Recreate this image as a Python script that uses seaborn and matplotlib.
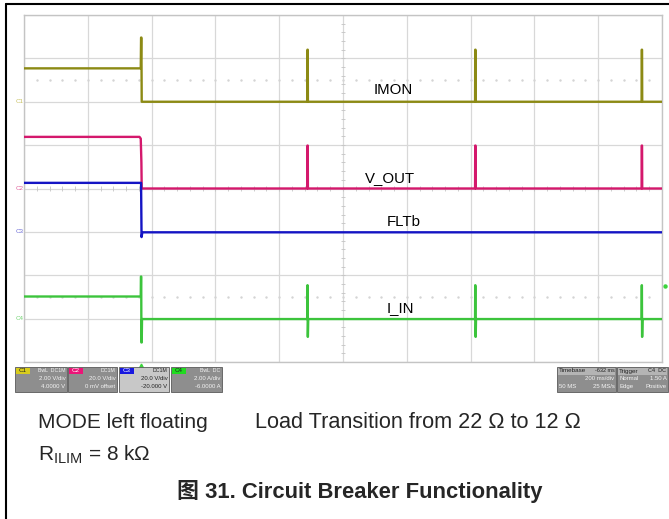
import numpy as np
import pandas as pd
import matplotlib
matplotlib.use("Agg")
import matplotlib.pyplot as plt
import seaborn as sns
from matplotlib import font_manager
from matplotlib.patches import Rectangle
from matplotlib.lines import Line2D

# scope traces, time in ms (200 ms/div), value in screen divisions (0 = bottom)
imon_t = [0, 366, 367, 368, 369, 888, 888.5, 889.5, 890, 1414, 1414.5, 1415.5, 1416, 1936, 1936.5, 1937.5, 1938, 2000]
imon_v = [6.77, 6.77, 7.48, 7.48, 6.00, 6.00, 7.20, 7.20, 6.00, 6.00, 7.20, 7.20, 6.00, 6.00, 7.20, 7.20, 6.00, 6.00]

vout_t = [0, 362, 366, 368, 369, 888, 888.5, 889.5, 890, 1414, 1414.5, 1415.5, 1416, 1936, 1936.5, 1937.5, 1938, 2000]
vout_v = [5.19, 5.19, 5.15, 4.60, 4.00, 4.00, 4.99, 4.99, 4.00, 4.00, 4.99, 4.99, 4.00, 4.00, 4.99, 4.99, 4.00, 4.00]

fltb_t = [0, 367, 368.5, 371, 2000]
fltb_v = [4.13, 4.13, 2.88, 2.99, 2.99]

iin_t = [0, 366, 366.5, 367.5, 368, 369, 370, 888, 888.5, 889, 889.5, 890, 891,
         1414, 1414.5, 1415, 1415.5, 1416, 1417, 1936, 1936.5, 1937, 1937.5, 1938, 1939, 2000]
iin_v = [1.51, 1.51, 1.97, 1.97, 0.45, 0.45, 0.99, 0.99, 1.77, 1.77, 0.58, 0.58, 0.99,
         0.99, 1.77, 1.77, 0.58, 0.58, 0.99, 0.99, 1.77, 1.77, 0.58, 0.58, 0.99, 0.99]

channels = ["IMON", "V_OUT", "FLTb", "I_IN"]
colors = {"IMON": "#8c8a14", "V_OUT": "#d4186c", "FLTb": "#1414c4", "I_IN": "#3cc43c"}
marker_colors = ["#c8c060", "#e0609a", "#6a6ad6", "#74d474"]
ground_levels = [6, 4, 3, 1]

status_boxes = [
    ("C1", "#d8cc1c", ["BwL  DC1M", "2.00 V/div", "4.0000 V"]),
    ("C2", "#ec1478", ["DC1M", "20.0 V/div", "0 mV offset"]),
    ("C3", "#1818e0", ["DC1M", "20.0 V/div", "-20.000 V"]),
    ("C4", "#20dc20", ["BwL  DC", "2.00 A/div", "-6.0000 A"]),
]

sns.set_theme(style="white")
names = {f.name for f in font_manager.fontManager.ttflist}
narrow = "Liberation Sans Narrow" in names
main_font = "Liberation Sans Narrow" if narrow else "Liberation Sans"
plt.rcParams["font.family"] = [main_font, "Noto Sans CJK SC", "DejaVu Sans"]
plt.rcParams["mathtext.fontset"] = "custom"
plt.rcParams["mathtext.rm"] = main_font

W, H = 669, 519
fig = plt.figure(figsize=(W / 100, H / 100), dpi=100)


def fx(px):
    return px / W


def fy(py):
    return 1 - py / H


ax = fig.add_axes([fx(24), fy(362), (662 - 24) / W, (362 - 15) / H])

frames = []
for name, t, v in [("IMON", imon_t, imon_v), ("V_OUT", vout_t, vout_v),
                   ("FLTb", fltb_t, fltb_v), ("I_IN", iin_t, iin_v)]:
    frames.append(pd.DataFrame({"time": t, "div": v, "channel": name}))
df = pd.concat(frames, ignore_index=True)

sns.lineplot(data=df, x="time", y="div", hue="channel", palette=colors,
             estimator=None, sort=False, lw=1.7, legend=False, ax=ax, zorder=5)

ax.set_xlim(0, 2000)
ax.set_ylim(0, 8)
ax.set_xticks(np.arange(0, 2001, 200))
ax.set_yticks(np.arange(0, 9, 1))
ax.grid(True, color="#d8d8d8", lw=0.9)
ax.tick_params(length=0, labelbottom=False, labelleft=False)
ax.set_xlabel("")
ax.set_ylabel("")
for s in ax.spines.values():
    s.set_color("#c4c4c4")
    s.set_linewidth(1.0)

# centre axis tick marks and faint dotted rows
ax.hlines(np.arange(0.2, 8, 0.2), 1000 - 6, 1000 + 6, color="#c4c4c4", lw=0.6, zorder=2)
ax.vlines(np.arange(40, 2000, 40), 4 - 0.05, 4 + 0.05, color="#c4c4c4", lw=0.6, zorder=2)
for row in (6.5, 1.5):
    xs = np.arange(40, 2000, 40)
    ax.plot(xs, np.full(len(xs), row), ls="none", marker="s", ms=0.7,
            color="#d4d4d4", zorder=2)

# channel ground markers
for lab, c, g in zip(["C1", "C2", "C3", "C4"], marker_colors, ground_levels):
    ax.text(-0.001, g, lab, transform=ax.get_yaxis_transform(), ha="right",
            va="center", fontsize=4.5, color=c, clip_on=False)

# trigger markers
ax.plot([367], [-0.1], marker="^", ms=3.5, color="#3cd43c", clip_on=False, ls="none")
ax.plot([1.005], [1.75], marker="o", ms=2.2, color="#3cd43c", clip_on=False,
        transform=ax.get_yaxis_transform(), ls="none")

# trace names
lab_size = 12.5 if narrow else 10.8
for name, (tx, ty) in zip(channels, [(1157, 6.27), (1147, 4.24), (1191, 3.23), (1179, 1.24)]):
    ax.text(tx, ty, name, ha="center", va="center", fontsize=lab_size, color="black", zorder=6)

# status bar
box_x = [(15, 67), (68, 117), (119, 169), (171, 222)]
for (x0, x1), (tag, tc, lines) in zip(box_x, status_boxes):
    bg = "#c8c8c8" if tag == "C3" else "#8e8e8e"
    fg = "#222222" if tag == "C3" else "#f4f4f4"
    fig.add_artist(Rectangle((fx(x0), fy(392)), fx(x1) - fx(x0), fy(367) - fy(392),
                             facecolor=bg, edgecolor="#5a5a5a", lw=0.6))
    fig.add_artist(Rectangle((fx(x0 + 1), fy(374)), fx(14), fy(368) - fy(374),
                             facecolor=tc, edgecolor="none"))
    fig.text(fx(x0 + 8), fy(371), tag, fontsize=4.5, ha="center", va="center",
             color="white" if tag in ("C2", "C3") else "#222222")
    fig.text(fx(x1 - 1.5), fy(371), lines[0], fontsize=3.8, ha="right", va="center", color=fg)
    fig.text(fx(x1 - 1.5), fy(378.5), lines[1], fontsize=4.3, ha="right", va="center", color=fg)
    fig.text(fx(x1 - 1.5), fy(386.5), lines[2], fontsize=4.3, ha="right", va="center", color=fg)

for x0, x1, head, right_head, rows in [
        (557, 616, "Timebase", "-632 ms", [("", "200 ms/div"), ("50 MS", "25 MS/s")]),
        (617, 668, "Trigger", "C4  DC", [("Normal", "1.50 A"), ("Edge", "Positive")])]:
    fig.add_artist(Rectangle((fx(x0), fy(392)), fx(x1) - fx(x0), fy(367) - fy(392),
                             facecolor="#8e8e8e", edgecolor="#5a5a5a", lw=0.6))
    fig.add_artist(Rectangle((fx(x0 + 1), fy(374.5)), fx(x1 - x0 - 2), fy(368) - fy(374.5),
                             facecolor="#b4b4b4", edgecolor="none"))
    fig.text(fx(x0 + 2), fy(371), head, fontsize=4.5, ha="left", va="center", color="#222222")
    fig.text(fx(x1 - 1.5), fy(371), right_head, fontsize=4.0, ha="right", va="center", color="#222222")
    for i, (l, r) in enumerate(rows):
        yy = 378.5 + 8 * i
        fig.text(fx(x0 + 2), fy(yy), l, fontsize=4.3, ha="left", va="center", color="#f4f4f4")
        fig.text(fx(x1 - 1.5), fy(yy), r, fontsize=4.3, ha="right", va="center", color="#f4f4f4")

# caption text
cap_size = 17.5 if narrow else 15.0
fig.text(fx(38), fy(428), "MODE left floating", fontsize=cap_size, ha="left", va="baseline")
fig.text(fx(255), fy(428), "Load Transition from 22 Ω to 12 Ω", fontsize=cap_size + 0.6,
         ha="left", va="baseline")
fig.text(fx(38), fy(460), r"R$_{\mathrm{ILIM}}$ = 8 kΩ", fontsize=cap_size, ha="left", va="baseline")
fig.text(fx(360), fy(498), "图 31. Circuit Breaker Functionality", fontsize=18 if narrow else 15.8,
         fontweight="bold", ha="center", va="baseline",
         family=[main_font, "Noto Sans CJK SC", "DejaVu Sans"])

# page frame (left and top edges)
fig.add_artist(Line2D([fx(6.5), fx(6.5)], [0, fy(4)], color="black", lw=1.5))
fig.add_artist(Line2D([fx(6.5), 1], [fy(4), fy(4)], color="black", lw=1.5))

fig.savefig("out.png", dpi=100)
